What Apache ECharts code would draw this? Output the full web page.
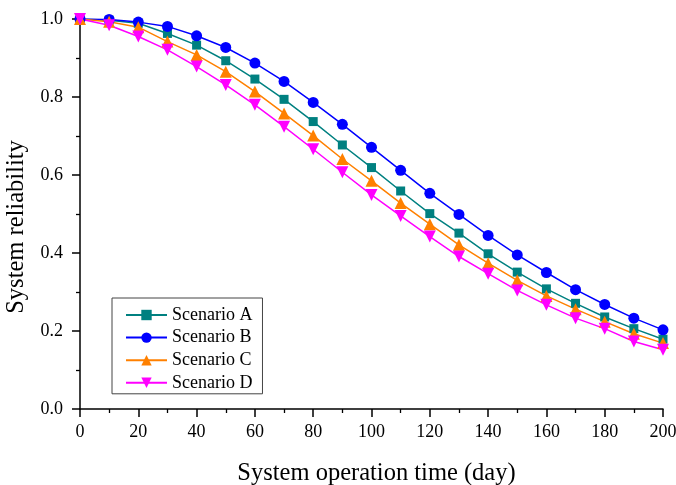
<!DOCTYPE html>
<html>
<head>
<meta charset="utf-8">
<script src="https://cdn.jsdelivr.net/npm/echarts@6/dist/echarts.min.js"></script>
<style>
  html, body { margin: 0; padding: 0; background: #fff; }
  #chart { width: 676px; height: 485px; }
</style>
</head>
<body>
<div id="chart"></div>
<script>
// 运行时间 (天)
const days = [0, 10, 20, 30, 40, 50, 60, 70, 80, 90, 100, 110, 120, 130, 140, 150, 160, 170, 180, 190, 200];

// 各场景可靠度
const scenarioA = [1.0, 0.997, 0.989, 0.963, 0.933, 0.893, 0.846, 0.794, 0.737, 0.677, 0.619, 0.559, 0.501, 0.451, 0.398, 0.351, 0.308, 0.271, 0.236, 0.206, 0.179];
const scenarioB = [1.0, 0.999, 0.992, 0.981, 0.957, 0.927, 0.887, 0.840, 0.786, 0.730, 0.671, 0.612, 0.553, 0.499, 0.445, 0.395, 0.350, 0.306, 0.268, 0.233, 0.203];
const scenarioC = [1.0, 0.993, 0.979, 0.942, 0.908, 0.865, 0.814, 0.758, 0.701, 0.641, 0.585, 0.528, 0.474, 0.421, 0.374, 0.330, 0.290, 0.256, 0.224, 0.193, 0.169];
const scenarioD = [1.0, 0.984, 0.955, 0.921, 0.878, 0.831, 0.780, 0.724, 0.666, 0.607, 0.549, 0.495, 0.442, 0.391, 0.347, 0.304, 0.267, 0.233, 0.206, 0.173, 0.152];

const seriesNames = ['Scenario A', 'Scenario B', 'Scenario C', 'Scenario D'];
const seriesColors = ['#008080', '#0000FF', '#FF8000', '#FF00FF'];

const FONT = '"Liberation Serif", "Times New Roman", serif';

function pairs(values) {
    return days.map((d, i) => [d, values[i]]);
}

const chart = echarts.init(document.getElementById('chart'));

function makeSeries(idx, values, symbol, size, rotate) {
    return {
        name: seriesNames[idx],
        type: 'line',
        data: pairs(values),
        symbol: symbol,
        symbolSize: size,
        symbolRotate: rotate || 0,
        showAllSymbol: true,
        clip: true,
        lineStyle: { color: seriesColors[idx], width: 1.5 },
        itemStyle: { color: seriesColors[idx] }
    };
}

const axisCommon = {
    axisLine: { show: true, lineStyle: { color: '#000', width: 1.5 } },
    axisTick: { show: true, inside: false, length: 8, lineStyle: { color: '#000', width: 1.5 } },
    minorTick: { show: true, splitNumber: 2, length: 4, lineStyle: { color: '#000', width: 1.3 } },
    splitLine: { show: false },
    axisLabel: { color: '#000', fontFamily: FONT, fontSize: 18 },
    nameTextStyle: { color: '#000', fontFamily: FONT, fontSize: 24.5 }
};

chart.setOption({
    backgroundColor: '#fff',
    animation: false,
    grid: { left: 80, right: 13, top: 19, bottom: 76, containLabel: false, outerBoundsMode: 'none' },
    legend: {
        orient: 'vertical',
        left: 112,
        top: 298,
        itemWidth: 41,
        itemHeight: 13,
        itemGap: 4.6,
        padding: [8, 10, 2, 13],
        borderColor: '#444',
        borderWidth: 1,
        borderRadius: 0,
        textStyle: { color: '#000', fontFamily: FONT, fontSize: 18 },
        data: seriesNames
    },
    xAxis: Object.assign({}, axisCommon, {
        type: 'value',
        min: 0,
        max: 200,
        interval: 20,
        name: 'System operation time (day)',
        nameLocation: 'middle',
        nameGap: 52,
        nameTextStyle: Object.assign({}, axisCommon.nameTextStyle, { padding: [0, 0, 0, 10] }),
        axisLabel: Object.assign({}, axisCommon.axisLabel, { margin: 14 })
    }),
    yAxis: Object.assign({}, axisCommon, {
        type: 'value',
        min: 0,
        max: 1,
        interval: 0.2,
        name: 'System reliability',
        nameLocation: 'middle',
        nameGap: 51,
        nameTextStyle: Object.assign({}, axisCommon.nameTextStyle, { padding: [0, 26, 0, 0] }),
        axisLabel: Object.assign({}, axisCommon.axisLabel, {
            margin: 17,
            formatter: v => v.toFixed(1)
        })
    }),
    series: [
        makeSeries(0, scenarioA, 'rect', 9),
        makeSeries(1, scenarioB, 'circle', 11),
        makeSeries(2, scenarioC, 'triangle', 12),
        makeSeries(3, scenarioD, 'triangle', 12, 180)
    ]
});

window.addEventListener('resize', () => chart.resize());
</script>
</body>
</html>
